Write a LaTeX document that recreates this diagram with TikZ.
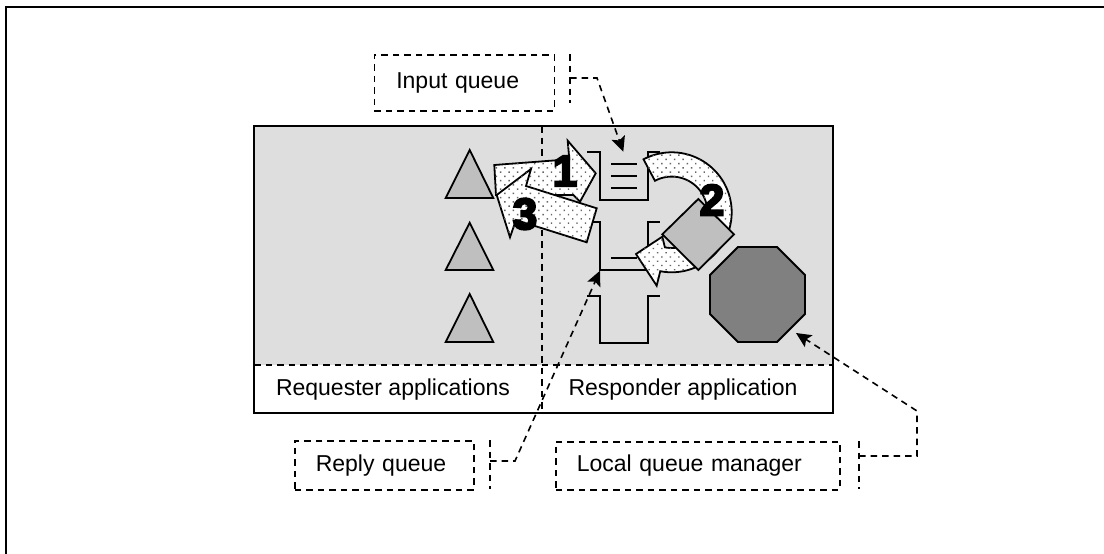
\documentclass[tikz,border=0pt]{standalone}
\usepackage{fontspec}
\setmainfont{Liberation Sans}
\newfontfamily\heavyfont[FakeBold=5]{Liberation Sans Bold}
\usetikzlibrary{arrows.meta,patterns.meta}
\definecolor{panelgray}{gray}{0.87}
\tikzset{
  x=1pt,y=-1pt,
  every node/.style={font=\fontsize{23}{27}\selectfont},
  ln/.style={line width=1.8pt,black},
  dsh/.style={line width=1.6pt,black,dash pattern=on 6.5pt off 5pt},
  labelbox/.style={draw,dsh,anchor=north west,align=left,inner ysep=0pt,minimum height=#1},
  conn/.style={dsh,-{Stealth[length=15pt,width=14pt,inset=3pt]}},
  tri/.style={ln,fill=black!25},
  dotted fill/.style={ln,fill=white,postaction={pattern={Dots[distance=6pt,radius=1pt,angle=45]},pattern color=black!60}},
  digit/.style={font=\heavyfont\fontsize{44}{44}\selectfont,inner sep=0pt},
  lbl/.style={inner sep=0pt}
}
\begin{document}
\begin{tikzpicture}
\useasboundingbox (0,0) rectangle (1104,554);
\fill[white] (0,0) rectangle (1104,554);
% outer frame
\draw[line width=2.2pt] (6,554) -- (6,7) -- (1104,7);
% panel
\fill[panelgray] (254,126) rectangle (833,365);
\draw[line width=1.5pt] (254,126) rectangle (833,413);
\draw[dsh] (254,365) -- (833,365);
\draw[dsh] (542,126) -- (542,413);
% triangles
\draw[tri] (469.7,150) -- (493.3,198) -- (445.7,198) -- cycle;
\draw[tri] (469.7,222.7) -- (493.3,270) -- (445.7,270) -- cycle;
\draw[tri] (469.7,294) -- (493.3,342) -- (445.7,342) -- cycle;
% queues
\draw[ln] (587,152) -- (600,152) -- (600,200) -- (648,200) -- (648,152) -- (660,152);
\draw[ln] (611,164) -- (637,164) (611,176) -- (637,176) (611,188) -- (637,188);
\draw[ln] (587,222) -- (600,222) -- (600,270) -- (648,270) -- (648,222) -- (660,222);
\draw[ln] (611,258) -- (637,258);
\draw[ln] (587,296) -- (600,296) -- (600,343) -- (648,343) -- (648,296) -- (660,296);
% arrow 1
\draw[dotted fill] (494.3,165) -- (569.3,159.3) -- (567.7,140.7) -- (595.7,173.3) -- (580,201.7) -- (573.3,195) -- (496,195) -- cycle;
% arrow 2
\draw[dotted fill,line join=miter]
  plot[domain=-118:101,samples=60] ({671.7+60*cos(\x)},{212.3+60*sin(\x)})
  -- (656.7,285.7) -- (636,254) -- (662.3,236.7)
  -- plot[domain=101:-118,samples=60] ({671.7+35.7*cos(\x)},{212.3+35.7*sin(\x)})
  -- cycle;
% rotated square
\draw[tri] (698.3,199) -- (734,234.3) -- (698.3,270) -- (662.3,234.3) -- cycle;
% arrow 3
\draw[dotted fill] (496.7,195) -- (531,169) -- (526,186) -- (596.7,208.3) -- (586.7,242.3) -- (516,220) -- (510,237.3) -- cycle;
% octagon
\draw[ln,fill=black!50] (738,247) -- (777,247) -- (805,275) -- (805,314) -- (777,342) -- (738,342) -- (710,314) -- (710,275) -- cycle;
% digits
\node[digit] (d1) at (565,171) {1};
\node[digit] (d2) at (712,200) {2};
\node[digit] (d3) at (525,214) {3};
% captions
\node[lbl] (req) at (393,390) {Requester applications};
\node[lbl] (resp) at (683,390) {Responder application};
% label boxes
\node[labelbox=56pt,text width=136pt,inner xsep=22pt] (inq) at (373.5,54) {Input queue};
\node[labelbox=49pt,text width=137pt,inner xsep=21pt] (repq) at (294,440) {Reply queue};
\node[labelbox=48pt,text width=242pt,inner xsep=21pt] (lqm) at (555,441) {Local queue manager};
% connectors
\coordinate (inqs) at (570,78);
\coordinate (inqb) at (597,78);
\coordinate (inqt) at (623.3,151.7);
\draw[dsh] (570,54) -- (570,103);
\draw[conn] (inqs) -- (inqb) -- (inqt);
\coordinate (reps) at (490,461);
\coordinate (repb) at (515,461);
\coordinate (rept) at (600,270.7);
\draw[dsh] (490,440) -- (490,489);
\draw[conn] (reps) -- (repb) -- (rept);
\coordinate (lqs) at (859,456);
\coordinate (lqb) at (917,456);
\coordinate (lqc) at (917,411);
\coordinate (lqt) at (796,333);
\draw[dsh] (859,441) -- (859,489);
\draw[conn] (lqs) -- (lqb) -- (lqc) -- (lqt);
\end{tikzpicture}
\end{document}
